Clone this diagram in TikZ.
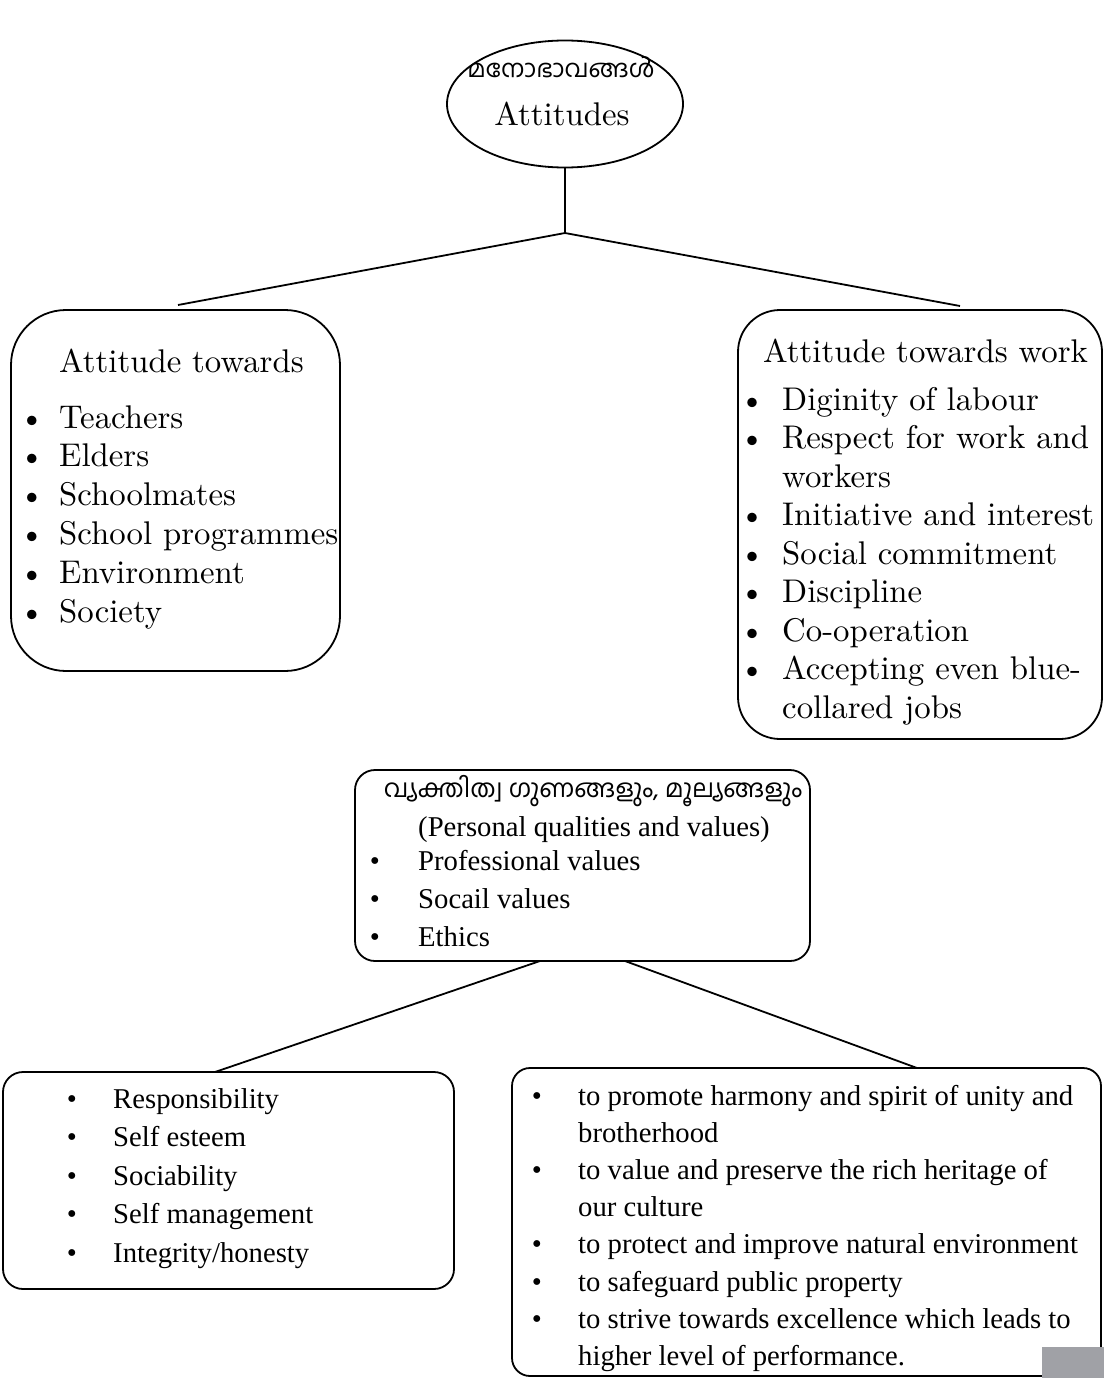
\documentclass[tikz,border=0pt]{standalone}
\usepackage{fontspec}
\newfontfamily\mal[Script=Malayalam]{Hind Kochi}
\newfontfamily\tms{Liberation Serif}
\newfontfamily\upfont{lmroman10-regular}[Extension=.otf]
\usetikzlibrary{shapes.geometric}
\definecolor{pagegray}{RGB}{160,161,166}
\begin{document}
\begin{tikzpicture}[x=1pt,y=-1pt,
  box/.style={draw, line width=1.8pt, rounded corners=#1, inner sep=0pt, outer sep=0pt},
  up/.style={anchor=base west, inner sep=0pt, font=\upfont\fontsize{32.8}{38}\selectfont},
  upb/.style={anchor=base, inner sep=0pt, font=\upfont\fontsize{32.8}{38}\selectfont},
  lo/.style={anchor=base west, inner sep=0pt, font=\tms\fontsize{28.7}{34}\selectfont},
  lob/.style={anchor=base, inner sep=0pt, font=\tms\fontsize{28.7}{34}\selectfont},
  ml/.style={anchor=base, inner sep=0pt, font=\mal\fontsize{24.5}{28}\selectfont},
  conn/.style={line width=1.8pt}]
\useasboundingbox (0,0) rectangle (1104,1378);

% root ellipse
\node[draw, ellipse, line width=1.8pt, minimum width=236pt, minimum height=127pt, inner sep=0pt] (att) at (565,104) {};
\node[ml] (attml) at (561,78) {മനോഭാവങ്ങൾ};
\node[upb] (atten) at (562,125) {Attitudes};

% junction and connectors
\coordinate (j) at (565,233);
\coordinate (lt) at (178,305);
\coordinate (rt) at (960,306);
\draw[conn] (att.south) -- (j);
\draw[conn] (lt) -- (j) -- (rt);

% left box
\node[box=55pt, minimum width=329pt, minimum height=361pt] (lbox) at (175.5,490.5) {};
\node[up] (lhead) at (59,372) {Attitude towards};
\foreach \t [count=\i] in {Teachers, Elders, Schoolmates, School programmes, Environment, Society}{
  \node[upb] (lb\i) at (32,{428+38.8*(\i-1)}) {\textbullet};
  \node[up] (li\i) at (59,{428+38.8*(\i-1)}) {\t};
}

% right box
\node[box=42pt, minimum width=364pt, minimum height=429pt] (rbox) at (920,524.5) {};
\node[up] (rhead) at (763,362) {Attitude towards work};
\foreach \t/\k in {Diginity of labour/0, Respect for work and/1, Initiative and interest/3, Social commitment/4, Discipline/5, Co-operation/6, Accepting even blue-/7}{
  \node[upb] (rb\k) at (752,{410+38.5*\k}) {\textbullet};
  \node[up] (ri\k) at (782,{410+38.5*\k}) {\t};
}
\node[up] (ri2) at (782,{410+38.5*2}) {workers};
\node[up] (ri8) at (782,{410+38.5*8}) {collared jobs};

% middle box
\node[box=20pt, minimum width=455pt, minimum height=191pt] (mbox) at (582.5,865.5) {};
\node[ml, font=\mal\fontsize{25}{28}\selectfont] (mml) at (593,797) {വ്യക്തിത്വ ഗുണങ്ങളും, മൂല്യങ്ങളും};
\node[lo] (mhead) at (418,836) {(Personal qualities and values)};
\foreach \t [count=\i] in {Professional values, Socail values, Ethics}{
  \node[lob] (mb\i) at (375,{870+38*(\i-1)}) {\textbullet};
  \node[lo] (mi\i) at (418,{870+38*(\i-1)}) {\t};
}

% connectors from middle box
\coordinate (m1) at (540,961);
\coordinate (m2) at (625,961);
\coordinate (bl) at (215,1072);
\coordinate (br) at (917,1068);
\draw[conn] (m1) -- (bl);
\draw[conn] (m2) -- (br);

% bottom-left box
\node[box=20pt, minimum width=451pt, minimum height=217pt] (blbox) at (228.5,1180.5) {};
\foreach \t [count=\i] in {Responsibility, Self esteem, Sociability, Self management, Integrity/honesty}{
  \node[lob] (blb\i) at (72,{1108+38.5*(\i-1)}) {\textbullet};
  \node[lo] (bli\i) at (113,{1108+38.5*(\i-1)}) {\t};
}

% bottom-right box
\node[box=18pt, minimum width=589pt, minimum height=308pt] (brbox) at (806.5,1222) {};
\foreach \t/\k in {to promote harmony and spirit of unity and/0, to value and preserve the rich heritage of/2, to protect and improve natural environment/4, to safeguard public property/5, to strive towards excellence which leads to/6}{
  \node[lob] (brb\k) at (537,{1105+37.2*\k}) {\textbullet};
  \node[lo] (bri\k) at (578,{1105+37.2*\k}) {\t};
}
\node[lo] (bri1) at (578,{1105+37.2*1}) {brotherhood};
\node[lo] (bri3) at (578,{1105+37.2*3}) {our culture};
\node[lo] (bri7) at (578,{1105+37.2*7}) {higher level of performance.};

% gray page tab
\fill[pagegray] (1042,1347) rectangle (1104,1378);
\end{tikzpicture}
\end{document}
